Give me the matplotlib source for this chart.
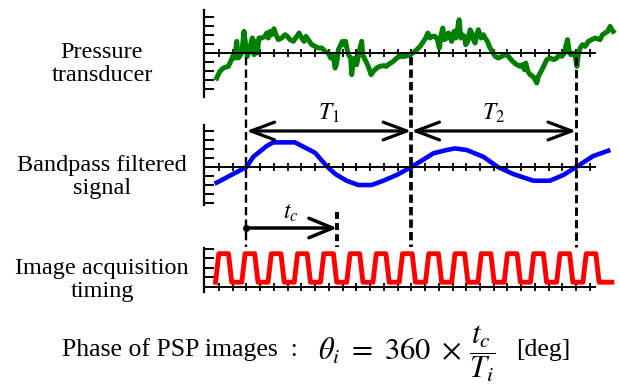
import matplotlib.pyplot as plt

plt.rcParams['font.family'] = 'Liberation Serif'
plt.rcParams['mathtext.fontset'] = 'stix'
plt.rcParams['lines.scale_dashes'] = False

# time in tick units (one tick = one unit), signal values in y-tick units
green_t = [0.83, 1.07, 1.32, 1.68, 1.92, 2.04, 2.16, 2.29, 2.41, 2.58, 2.70, 2.82, 2.94, 3.06, 3.18,
           3.31, 3.43, 3.55, 3.67, 3.79, 3.91, 4.11, 4.35, 4.47, 4.59, 4.71, 4.83, 5.00, 5.15, 5.32,
           5.56, 5.81, 5.98, 6.17, 6.41, 6.66, 6.83, 7.02, 7.19, 7.33, 7.50, 7.75, 7.99, 8.23, 8.48,
           8.72, 8.96, 9.13, 9.33, 9.45, 9.57, 9.69, 9.81, 9.98, 10.10, 10.22, 10.30, 10.42, 10.59,
           10.66, 10.78, 10.90, 11.02, 11.14, 11.27, 11.39, 11.46, 11.58, 11.75, 11.87, 12.07, 12.24,
           12.48, 12.72, 12.97, 13.16, 13.33, 13.50, 13.69, 13.94, 14.18, 14.42, 14.54, 14.91, 15.27,
           15.64, 15.88, 16.05, 16.20, 16.36, 16.53, 16.73, 16.90, 17.04, 17.17, 17.29, 17.41, 17.58,
           17.70, 17.82, 17.94, 18.11, 18.23, 18.38, 18.48, 18.60, 18.72, 18.87, 18.96, 19.11, 19.28,
           19.40, 19.52, 19.64, 19.76, 19.88, 20.08, 20.25, 20.37, 20.54, 20.73, 20.90, 21.10, 21.34,
           21.58, 21.83, 22.07, 22.26, 22.51, 22.68, 22.92, 23.09, 23.23, 23.33, 23.48, 23.64, 23.84,
           24.01, 24.13, 24.25, 24.45, 24.62, 24.86, 25.11, 25.35, 25.59, 25.76, 25.95, 26.15, 26.27,
           26.37, 26.49, 26.61, 26.76, 26.93, 27.05, 27.17, 27.29, 27.46, 27.65, 27.89, 28.14, 28.38,
           28.74, 28.91, 29.10, 29.30, 29.47, 29.59, 29.69]
green_v = [-2.75, -2.01, -1.65, -1.47, -0.73, -0.18, -0.55, 1.28, -0.55, -0.18, 0.55, 2.38, 0.92, -0.37, 0.18,
           0.92, 1.65, -0.18, 1.28, 0.0, 1.65, 1.65, 1.83, 2.20, 1.65, 2.38, 2.01, 2.67, 2.01, 1.47,
           1.65, 2.01, 1.83, 1.47, 1.28, 1.83, 2.20, 1.65, 1.28, 1.83, 1.47, 0.92, 0.73, 0.55, 0.55,
           0.18, 0.0, -0.55, -0.37, -1.65, -1.10, 0.37, 0.73, 1.28, 0.92, 1.28, 0.55, -0.18, -0.55,
           -2.38, -0.92, -0.55, -1.28, -0.37, 0.55, 1.28, -0.18, -0.55, -1.10, -1.47, -2.38, -2.01,
           -1.65, -1.47, -1.39, -1.47, -1.28, -1.10, -0.92, -0.55, -0.37, -0.37, -0.37, -0.18, 0.18,
           0.73, 1.28, 1.65, 2.20, 1.65, 1.83, 1.83, 1.47, 0.55, 2.01, 2.75, 1.47, 1.65,
           2.20, 1.83, 1.28, 2.38, 1.65, 2.75, 3.66, 1.65, 2.01, 1.83, 0.92, 1.28, 2.56,
           2.20, 1.47, 1.10, 2.01, 2.56, 1.65, 2.01, 1.65, 1.28, 0.55, 0.18, -0.37, -0.55,
           -0.37, -0.18, -0.37, -0.73, -1.10, -1.28, -1.47, -1.28, -1.83, -1.10, -2.01, -2.38, -2.56,
           -2.93, -3.30, -2.56, -2.01, -1.47, -0.73, -0.55, -0.73, -0.55, -0.18, -0.37, 0.0, 0.92,
           1.47, 0.18, -0.18, 0.0, -0.37, -1.47, 0.0, 0.55, 0.92, 0.73, 1.28, 1.47, 1.65,
           1.47, 2.01, 2.20, 2.38, 2.93, 2.56, 2.38]

blue_t = [0.83, 3.0, 3.5, 4.47, 4.95, 6.53, 7.38, 7.99, 8.9, 9.5, 10.29, 11.14, 12.11, 12.96, 13.93,
          15.0, 15.63, 16.6, 17.57, 18.18, 19.03, 20.24, 21.3, 22.42, 23.88, 25.09, 26.06, 27.0,
          28.24, 29.33]
blue_v = [-1.74, 0.0, 1.14, 2.33, 2.74, 2.74, 2.07, 1.59, 0.0, -0.81, -1.52, -2.0, -2.0, -1.52, -0.89,
          0.0, 0.59, 1.52, 1.89, 2.07, 1.89, 1.14, 0.0, -0.78, -1.52, -1.52, -0.89, 0.0,
          1.22, 1.81]

frame_rise = [0.75, 2.66, 4.57, 6.48, 8.39, 10.30, 12.21, 14.12, 16.03, 17.94, 19.85, 21.76, 23.67,
              25.58, 27.49]
record_end = 29.6
red_low, red_high = 0.5, 3.5

crossings = [3, 15, 27]
tc_end = 9.6
xticks = list(range(1, 29))

W, H = 619, 387
XL = (-0.09, 28.37)
fig = plt.figure(figsize=(W / 100, H / 100), dpi=100)


def panel(top_px, bottom_px, ylim, yticks):
    ax = fig.add_axes([204 / W, 1 - bottom_px / H, 391 / W, (bottom_px - top_px) / H])
    ax.set_xlim(*XL)
    ax.set_ylim(*ylim)
    ax.patch.set_visible(False)
    ax.spines['top'].set_visible(False)
    ax.spines['right'].set_visible(False)
    ax.spines['bottom'].set_position(('data', 0))
    ax.spines['left'].set_linewidth(1.6)
    ax.spines['bottom'].set_linewidth(1.4)
    ax.set_xticks(xticks)
    ax.set_yticks(yticks)
    ax.tick_params(axis='y', direction='in', length=7, width=1.4, labelleft=False)
    ax.tick_params(axis='x', direction='inout', length=6, width=1.3, labelbottom=False)
    return ax


ax1 = panel(10, 97, (-4.84, 4.73), [-4, -3, -2, -1, 1, 2, 3, 4])
ax1.plot(green_t, green_v, color='#007f00', lw=3.6, clip_on=False, solid_joinstyle='round')

ax2 = panel(125, 205, (-4.22, 4.67), [-4, -3, -2, -1, 1, 2, 3, 4])
ax2.plot(blue_t, blue_v, color='#0000ff', lw=3.3, clip_on=False)

red_t, red_v = [], []
for r in frame_rise:
    red_t += [r, r + 0.24, r + 0.94, r + 1.18]
    red_v += [red_low, red_high, red_high, red_low]
red_t.append(record_end)
red_v.append(red_low)
ax3 = panel(248, 292, (-0.53, 4.1), [1, 2, 3, 4])
ax3.plot(red_t, red_v, color='#ff0000', lw=3.5, clip_on=False, solid_joinstyle='round')

# overlay in time units (x) and pixel rows (y)
ov = fig.add_axes([204 / W, 0, 391 / W, 1])
ov.set_xlim(*XL)
ov.set_ylim(H, 0)
ov.axis('off')

for t, lw in zip(crossings, [1.7, 2.7, 2.1]):
    ov.plot([t, t], [57, 247], color='k', lw=lw, dashes=(6, 3))
ov.plot([tc_end, tc_end], [212, 247], color='k', lw=2.8, dashes=(5, 3))

for i, (a, b) in enumerate(zip(crossings[:-1], crossings[1:])):
    ov.annotate('', xy=(b, 131), xytext=(a, 131),
                arrowprops=dict(arrowstyle='<->,head_length=0.85,head_width=0.32', lw=2.3,
                                color='k', shrinkA=0, shrinkB=0, mutation_scale=20))
    ov.text((a + b) / 2, 113, f'$T_{i + 1}$', ha='center', va='center', fontsize=17)

ov.annotate('', xy=(tc_end, 228), xytext=(crossings[0], 228),
            arrowprops=dict(arrowstyle='->,head_length=0.85,head_width=0.35', lw=2.5,
                            color='k', shrinkA=0, shrinkB=0, mutation_scale=20))
ov.plot(crossings[0], 228, 'o', ms=4, color='k')
ov.text((crossings[0] + tc_end) / 2 - 0.1, 213, '$t_c$', ha='center', va='center', fontsize=17)

fig.text(102 / W, 1 - 64 / H, 'Pressure\ntransducer', ha='center', va='center',
         fontsize=17.5, linespacing=1.1)
fig.text(102 / W, 1 - 177 / H, 'Bandpass filtered\nsignal', ha='center', va='center',
         fontsize=17.5, linespacing=1.1)
fig.text(102 / W, 1 - 280 / H, 'Image acquisition\ntiming', ha='center', va='center',
         fontsize=17.5, linespacing=1.1)

fig.text(62 / W, 1 - 350 / H, 'Phase of PSP images  :', va='center', fontsize=18.5)
fig.text(318 / W, 1 - 354 / H, r'$\theta_i\ =\ 360\ \times\, \dfrac{t_c}{T_i}$', va='center',
         fontsize=22)
fig.text(516 / W, 1 - 350 / H, '[deg]', va='center', fontsize=18.5)

fig.savefig('out.png', dpi=100)
